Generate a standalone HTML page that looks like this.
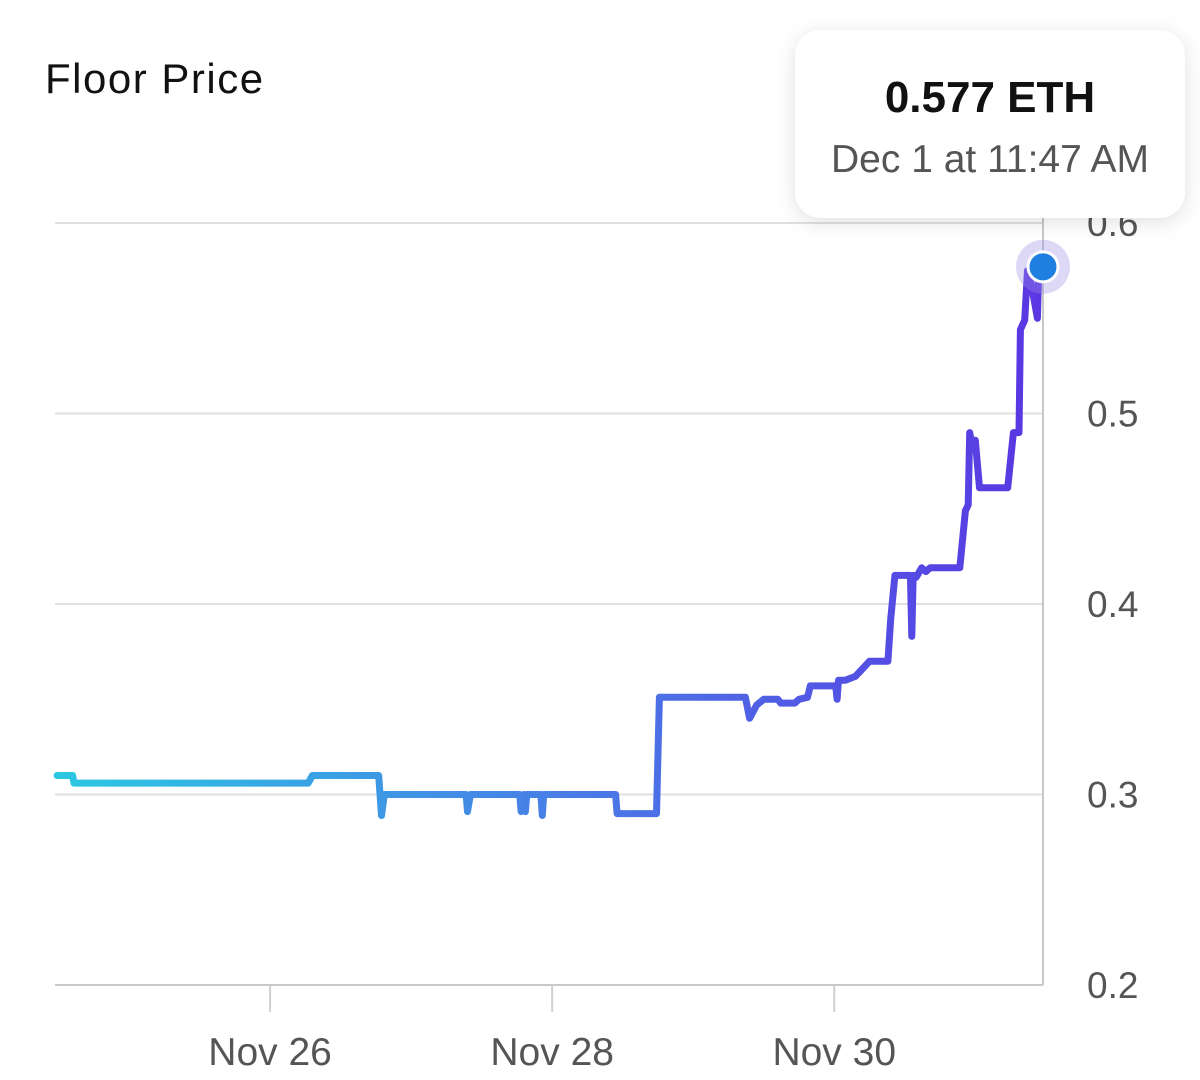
<!DOCTYPE html>
<html><head><meta charset="utf-8">
<style>
html,body{margin:0;padding:0;background:#fff;}
body{width:1200px;height:1080px;overflow:hidden;position:relative;font-family:"Liberation Sans",sans-serif;}
</style></head>
<body>
<svg width="1200" height="1080" style="position:absolute;left:0;top:0">
  <defs>
    <linearGradient id="lg" x1="55" x2="1043" y1="0" y2="0" gradientUnits="userSpaceOnUse">
      <stop offset="0" stop-color="#2bc8e2"/>
      <stop offset="0.55" stop-color="#4a78e6"/>
      <stop offset="1" stop-color="#5a36e2"/>
    </linearGradient>
    <filter id="sh" x="-20%" y="-20%" width="140%" height="150%">
      <feDropShadow dx="0" dy="4" stdDeviation="10" flood-color="#000" flood-opacity="0.12"/>
    </filter>
  </defs>
  <text x="45" y="93" font-size="42" letter-spacing="1.5" fill="#111">Floor Price</text>
  <g id="grid"></g>
  <g id="xaxis"></g>
  <g id="yaxis"></g>
  <path id="line" fill="none" stroke="url(#lg)" stroke-width="7" stroke-linejoin="round" stroke-linecap="round"/>
  <circle id="halo" r="27" fill="#9d8ee6" fill-opacity="0.35"/>
  <circle id="dot" r="15" fill="#1e7fe0" stroke="#fff" stroke-width="3"/>
  <g>
    <rect x="795" y="30" width="390" height="188" rx="26" fill="#fff" filter="url(#sh)"/>
    <text x="990" y="112" text-anchor="middle" font-size="44" font-weight="bold" fill="#111">0.577 ETH</text>
    <text x="990" y="172" text-anchor="middle" font-size="39" fill="#555">Dec 1 at 11:47 AM</text>
  </g>
</svg>
<script>
// days since Nov 24 00:00
const days = [0.49,0.60,0.61,2.27,2.30,2.77,2.79,2.81,3.28,3.39,3.40,3.42,3.77,3.78,3.80,3.81,3.82,3.84,3.92,3.93,3.94,4.45,4.46,4.74,4.76,5.37,5.40,5.45,5.50,5.60,5.62,5.72,5.75,5.81,5.83,6.01,6.02,6.03,6.08,6.15,6.20,6.25,6.38,6.40,6.43,6.54,6.55,6.56,6.58,6.62,6.65,6.68,6.89,6.93,6.95,6.96,6.97,7.00,7.03,7.23,7.27,7.31,7.32,7.35,7.37,7.38,7.44,7.45,7.48];
const prices = [0.310,0.310,0.306,0.306,0.310,0.310,0.289,0.300,0.300,0.300,0.291,0.300,0.300,0.291,0.300,0.291,0.300,0.300,0.300,0.289,0.300,0.300,0.290,0.290,0.351,0.351,0.340,0.347,0.350,0.350,0.348,0.348,0.350,0.351,0.357,0.357,0.350,0.360,0.360,0.362,0.366,0.370,0.370,0.392,0.415,0.415,0.383,0.415,0.414,0.419,0.417,0.419,0.419,0.449,0.452,0.490,0.486,0.486,0.461,0.461,0.490,0.490,0.544,0.549,0.575,0.575,0.550,0.576,0.577];
const xTicks = [2,4,6];
const xTickLabels = ["Nov 26","Nov 28","Nov 30"];
const yTicks = [0.2,0.3,0.4,0.5,0.6];
const yTickLabels = ["0.2","0.3","0.4","0.5","0.6"];

const NS="http://www.w3.org/2000/svg";
const X0=55,X1=1043,Y0=985,Y1=223;
const dMin=0.475,dMax=7.48;
const xs=d=>X0+(d-dMin)/(dMax-dMin)*(X1-X0);
const ys=p=>Y0-(p-0.2)/(0.4)*(Y0-Y1);
function mk(tag,attrs,parent){const e=document.createElementNS(NS,tag);for(const k in attrs)e.setAttribute(k,attrs[k]);parent.appendChild(e);return e;}
const grid=document.getElementById('grid'),xa=document.getElementById('xaxis'),ya=document.getElementById('yaxis');
yTicks.forEach((v,i)=>{
  const y=ys(v);
  const l=mk('line',{x1:X0,x2:X1,y1:y,y2:y,stroke:i===0?'#c8c8c8':'#e0e0e0','stroke-width':2},grid);
  
  
  const t=mk('text',{x:1087,y:y+13,'font-size':37,fill:'#555'},ya);
  t.textContent=yTickLabels[i];
  
  
});
const ra=mk('line',{x1:X1,x2:X1,y1:Y1-5,y2:Y0,stroke:'#c8c8c8','stroke-width':2},grid);


xTicks.forEach((d,i)=>{
  const x=xs(d);
  const l=mk('line',{x1:x,x2:x,y1:Y0,y2:Y0+27,stroke:'#d0d0d0','stroke-width':2},xa);
  
  
  const t=mk('text',{x:x,y:1065,'font-size':39,fill:'#555','text-anchor':'middle'},xa);
  t.textContent=xTickLabels[i];
  
  
});
let dp='';
days.forEach((d,i)=>{dp+=(i?'L':'M')+xs(d).toFixed(1)+' '+ys(prices[i]).toFixed(1);});
document.getElementById('line').setAttribute('d',dp);
const lx=xs(days[days.length-1]),ly=ys(prices[prices.length-1]);
['halo','dot'].forEach(id=>{const c=document.getElementById(id);c.setAttribute('cx',lx);c.setAttribute('cy',ly);});
</script>
</body></html>
